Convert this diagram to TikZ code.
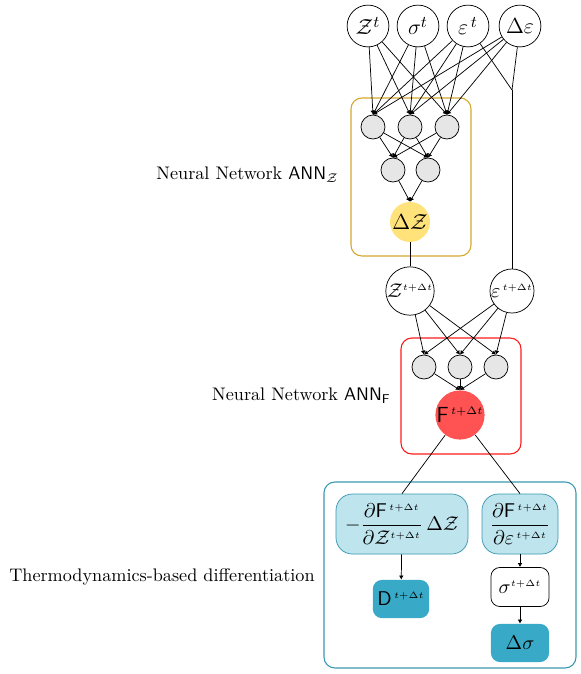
\documentclass[tikz,border=0pt]{standalone}
\usepackage{amsmath,amssymb}
\usetikzlibrary{arrows.meta}
\definecolor{hidgray}{HTML}{E6E6E6}
\definecolor{ybox}{HTML}{D4A72C}
\definecolor{yfill}{HTML}{FFE27A}
\definecolor{rbox}{HTML}{FF1A1A}
\definecolor{rfill}{HTML}{FF5252}
\definecolor{tbox}{HTML}{3A98B0}
\definecolor{lbfill}{HTML}{BEE4EE}
\definecolor{dtfill}{HTML}{38AAC8}
\begin{document}
\begin{tikzpicture}[x=0.55pt,y=-0.55pt,
  io/.style={circle,draw,minimum size=23pt,inner sep=-3pt,font=\fontsize{12.5}{14}\selectfont},
  ion/.style={circle,minimum size=23pt,inner sep=0pt,font=\fontsize{11}{13}\selectfont},
  hid/.style={circle,draw,fill=hidgray,minimum size=13.2pt,inner sep=0pt},
  arr/.style={-{Latex[length=2.2pt,width=2.6pt]}},
  grp/.style={draw,rounded corners=6pt,line width=0.6pt},
  lab/.style={anchor=east,font=\fontsize{10}{12}\selectfont,inner sep=0pt},
  pill/.style={draw=tbox,fill=lbfill,rounded corners=9pt,inner sep=1pt,minimum height=33pt,font=\fontsize{11}{13}\selectfont},
  dbox/.style={fill=dtfill,rounded corners=5pt,minimum width=31pt,minimum height=21pt,inner sep=1pt,font=\fontsize{11}{13}\selectfont},
  wbox/.style={draw,fill=white,rounded corners=5pt,minimum width=32pt,minimum height=21.5pt,inner sep=1pt,font=\fontsize{11}{13}\selectfont}
]
\useasboundingbox (0,0) rectangle (581,674);

% group boxes
\draw[grp,ybox] (351,98) rectangle (471,256);
\draw[grp,rbox] (401,338) rectangle (521,454);
\draw[grp,tbox] (324,482) rectangle (576,668);

% top inputs
\node[io] (zt) at (368,26) {$\mathcal{Z}^t$};
\node[io] (st) at (418,26) {$\sigma^t$};
\node[io] (et) at (468,26) {$\varepsilon^{\,t}$};
\node[io] (de) at (520,26) {$\Delta\varepsilon$};

% ANN_Z
\node[hid] (h1) at (373,127) {};
\node[hid] (h2) at (410,127) {};
\node[hid] (h3) at (447,127) {};
\node[hid] (g1) at (393,170) {};
\node[hid] (g2) at (428,170) {};
\node[circle,fill=yfill,minimum size=22pt,inner sep=0pt,font=\fontsize{12.5}{14}\selectfont] (dz) at (410,222) {$\Delta\mathcal{Z}$};

\foreach \s in {zt,st,et,de}
  \foreach \t in {h1,h2,h3}
    \draw[arr] (\s) -- (\t.north);
\foreach \s in {h1,h2,h3}
  \foreach \t in {g1,g2}
    \draw[arr] (\s) -- (\t.north);
\foreach \s in {g1,g2}
  \draw[arr] (\s) -- (dz.north);

\coordinate (j) at (512,90);
\draw (et) -- (j);
\draw (de) -- (j);

% second stage
\node[ion,draw] (zn) at (410,291) {$\mathcal{Z}^{\scriptscriptstyle t+\Delta t}$};
\node[ion,draw] (en) at (512,291) {$\varepsilon^{\scriptscriptstyle\, t+\Delta t}$};
\draw (dz) -- (zn);
\draw (j) -- (en);

\node[hid] (k1) at (424,367) {};
\node[hid] (k2) at (460,367) {};
\node[hid] (k3) at (496,367) {};
\node[ion,fill=rfill,minimum size=23.5pt,font=\fontsize{12}{14}\selectfont] (f) at (460,415) {$\mathsf{F}^{\scriptscriptstyle\, t+\Delta t}$};

\foreach \s in {zn,en}
  \foreach \t in {k1,k2,k3}
    \draw[arr] (\s) -- (\t.north);
\foreach \s in {k1,k2,k3}
  \draw[arr] (\s) -- (f.north);

% labels
\node[lab] (l1) at (339,175) {Neural Network $\mathsf{ANN}_{\mathcal{Z}}$};
\node[lab] (l2) at (391,396) {Neural Network $\mathsf{ANN}_{\mathsf{F}}$};
\node[lab] (l3) at (315,577) {Thermodynamics-based differentiation};

% bottom
\node[pill,minimum width=72.6pt] (pl) at (402,524)
  {$-\dfrac{\partial\mathsf{F}^{\scriptscriptstyle\, t+\Delta t}}{\partial\mathcal{Z}^{\scriptscriptstyle t+\Delta t}}\,\Delta\mathcal{Z}$};
\node[pill,minimum width=41.8pt] (pr) at (520,524)
  {$\dfrac{\partial\mathsf{F}^{\scriptscriptstyle\, t+\Delta t}}{\partial\varepsilon^{\scriptscriptstyle\, t+\Delta t}}$};
\draw (f) -- (pl.north);
\draw (f) -- (pr.north);

\node[dbox] (dd) at (401,599) {$\mathsf{D}^{\scriptscriptstyle\, t+\Delta t}$};
\node[wbox] (sn) at (520,587) {$\sigma^{\scriptscriptstyle t+\Delta t}$};
\node[dbox,minimum width=32pt] (ds) at (520,643) {$\Delta\sigma$};

\draw[arr] (pl) -- (dd);
\draw[arr] (pr) -- (sn);
\draw[arr] (sn) -- (ds);
\end{tikzpicture}
\end{document}
